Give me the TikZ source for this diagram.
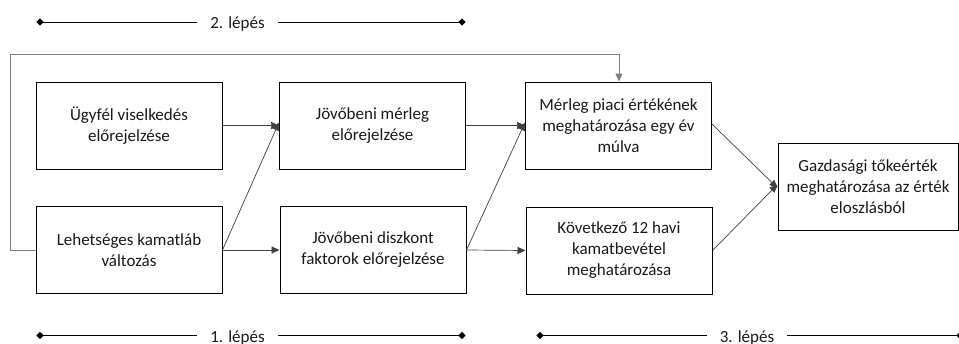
\documentclass[tikz,border=0pt]{standalone}
\usepackage{fontspec}
\setmainfont{Carlito}
\usetikzlibrary{arrows.meta}
\begin{document}
\begin{tikzpicture}[x=1pt,y=-1pt,
  font=\fontsize{17}{21}\selectfont,
  procbox/.style={draw=black,line width=1pt,minimum width=186pt,minimum height=87pt,
    align=center,inner sep=3pt,text=black!90},
  flow/.style={draw=black!75,line width=0.7pt,-{Triangle[length=8pt,width=7pt]}},
  loopback/.style={draw=black!50,line width=1pt,-{Triangle[length=8pt,width=7pt]}},
  stepline/.style={draw=black,line width=0.7pt},
  stepend/.style={fill=black,draw=none,minimum size=5pt,inner sep=0pt,rotate=45,rectangle},
  steplabel/.style={inner xsep=0pt,text=black!90}]
\useasboundingbox (0,0) rectangle (959,343);

% process boxes
\node[procbox] (cust)  at (129,125.5) {Ügyfél viselkedés\\előrejelzése};
\node[procbox] (bal)   at (372.5,125.5) {Jövőbeni mérleg\\előrejelzése};
\node[procbox] (rate)  at (129,250) {Lehetséges kamatláb\\változás};
\node[procbox] (disc)  at (373,250) {Jövőbeni diszkont\\faktorok előrejelzése};
\node[procbox] (mkt)   at (618.5,125.5) {Mérleg piaci értékének\\meghatározása egy év\\múlva};
\node[procbox] (nii)   at (619,250.5) {Következő 12 havi\\kamatbevétel\\meghatározása};
\node[procbox,minimum width=180pt] (econ) at (868,186.5) {Gazdasági tőkeérték\\meghatározása az érték\\eloszlásból};

% flows
\draw[flow] (cust.east) -- (bal.west);
\draw[flow] (rate.east) -- ([yshift=3pt]bal.west);
\draw[flow] (rate.east) -- (disc.west);
\draw[flow] (bal.east) -- (mkt.west);
\draw[flow] (disc.east) -- ([yshift=3pt]mkt.west);
\draw[flow] (disc.east) -- (nii.west);
\draw[flow] ([yshift=1.5pt]mkt.east) -- ([yshift=-1.5pt]econ.west);
\draw[flow] (nii.east) -- ([yshift=2pt]econ.west);

% feedback from rate change to market value
\coordinate (lb1) at (10,250);
\coordinate (lb2) at (10,54);
\coordinate (lb3) at (619,54);
\draw[loopback] (rate.west) -- (lb1) -- (lb2) -- (lb3) -- (lb3 |- mkt.north);

% step markers
\node[steplabel] (s2) at (237.5,24) {2. lépés};
\coordinate (s2l) at (40,22);
\coordinate (s2r) at (462,22);
\draw[stepline] (s2l) -- ([xshift=-13pt]s2.west |- s2l);
\draw[stepline] ([xshift=13pt]s2.east |- s2r) -- (s2r);
\node[stepend] at (s2l) {};
\node[stepend] at (s2r) {};

\node[steplabel] (s1) at (237.5,338) {1. lépés};
\coordinate (s1l) at (40,335.5);
\coordinate (s1r) at (462,335.5);
\draw[stepline] (s1l) -- ([xshift=-13pt]s1.west |- s1l);
\draw[stepline] ([xshift=13pt]s1.east |- s1r) -- (s1r);
\node[stepend] at (s1l) {};
\node[stepend] at (s1r) {};

\node[steplabel] (s3) at (747,338) {3. lépés};
\coordinate (s3l) at (540,335.5);
\coordinate (s3r) at (960,335.5);
\draw[stepline] (s3l) -- ([xshift=-13pt]s3.west |- s3l);
\draw[stepline] ([xshift=13pt]s3.east |- s3r) -- (s3r);
\node[stepend] at (s3l) {};
\node[stepend] at (s3r) {};
\end{tikzpicture}
\end{document}
